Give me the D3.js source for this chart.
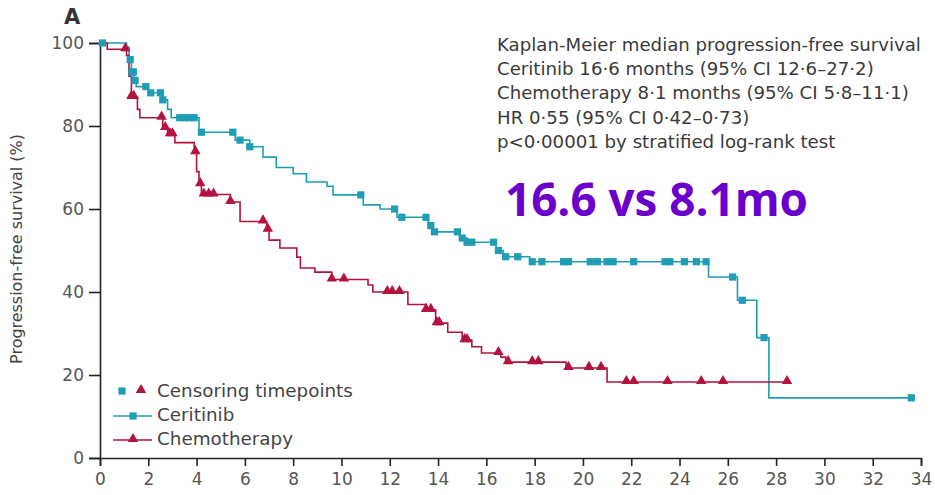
<!DOCTYPE html>
<html>
<head>
<meta charset="utf-8">
<script src="https://cdn.jsdelivr.net/npm/d3@7"></script>
<style>
  body { margin: 0; background: #fff; }
  text { font-family: "DejaVu Sans", "Open Sans", sans-serif; }
</style>
</head>
<body>
<svg id="km-chart"></svg>
<script>
// Kaplan-Meier steps: [month, survival %] after each drop
const ceritinibSteps = [
  [0, 100], [1.1, 99], [1.2, 96], [1.3, 93], [1.4, 91], [1.5, 89.5],
  [2.0, 88], [2.55, 86.3], [2.8, 84], [2.95, 82], [4.1, 78.5], [5.6, 76.6],
  [6.2, 75], [6.75, 72.5], [7.3, 70], [8.0, 68.5], [8.55, 66.5], [9.4, 65.5],
  [9.65, 63.4], [10.9, 61], [11.6, 60], [12.3, 58], [13.6, 56], [13.8, 54.5],
  [14.9, 53], [15.2, 52], [16.4, 50], [16.7, 48.5], [17.8, 47.3], [25.2, 43.6],
  [26.4, 38], [27.2, 29], [27.7, 14.5]
];
const ceritinibEnd = 33.6;
const ceritinibCensored = [
  0.1, 1.25, 1.32, 1.38, 1.45, 1.9, 2.1, 2.5, 2.6, 3.3, 3.5, 3.7, 3.9, 4.2,
  5.5, 5.8, 6.2, 10.8, 12.2, 12.5, 13.5, 13.7, 13.85, 14.8, 15.0, 15.2, 15.4,
  16.3, 16.5, 16.8, 17.3, 17.9, 18.3, 19.2, 19.4, 20.3, 20.6, 21.0, 21.25,
  22.1, 23.4, 23.6, 24.2, 24.7, 25.1, 26.2, 26.6, 27.5, 33.6
];

const chemoSteps = [
  [0, 100], [0.3, 98.5], [1.1, 97], [1.2, 92], [1.3, 87], [1.55, 84],
  [1.65, 82], [2.6, 79.5], [2.8, 78], [3.1, 76], [3.9, 73.7], [4.0, 69],
  [4.1, 66], [4.2, 63.5], [5.4, 61.7], [5.8, 57], [6.9, 55], [7.0, 52.5],
  [7.45, 50.6], [8.15, 48.4], [8.3, 45.8], [8.9, 44.8], [9.6, 43], [11.1, 41.7],
  [11.3, 40], [12.75, 37], [13.5, 35.7], [13.9, 32.5], [14.4, 30.3], [15.0, 28.4],
  [15.4, 26.8], [15.8, 25.3], [16.6, 24.3], [16.8, 23.1], [19.3, 21.7], [21.0, 18.3]
];
const chemoEnd = 28.45;
const chemoCensored = [
  1.05, 1.3, 1.4, 2.55, 2.7, 2.9, 3.0, 3.95, 4.15, 4.3, 4.5, 4.7, 5.4, 6.75,
  6.95, 9.6, 10.1, 11.9, 12.1, 12.4, 13.5, 13.7, 13.95, 14.05, 15.1, 15.2,
  16.5, 16.9, 17.9, 18.15, 19.4, 20.25, 20.75, 21.8, 22.1, 23.5, 24.9, 25.8, 28.45
];

const xTicks = d3.range(0, 35, 2);
const yTicks = [0, 20, 40, 60, 80, 100];

const statLines = [
  "Kaplan-Meier median progression-free survival",
  "Ceritinib 16\u00b76 months (95% CI 12\u00b76\u201327\u00b72)",
  "Chemotherapy 8\u00b71 months (95% CI 5\u00b78\u201311\u00b71)",
  "HR 0\u00b755 (95% CI 0\u00b742\u20130\u00b773)",
  "p<0\u00b700001 by stratified log-rank test"
];
const legendItems = ["Censoring timepoints", "Ceritinib", "Chemotherapy"];

const teal = "#1f9db5";
const crimson = "#b3133f";

// SVG size and margins
const W = 935, H = 495;
const margin = { top: 43, right: 14, bottom: 37, left: 100 };
const width = W - margin.left - margin.right;
const height = H - margin.top - margin.bottom;

const svg = d3.select("#km-chart")
  .attr("width", W)
  .attr("height", H);

const g = svg.append("g")
  .attr("transform", "translate(" + margin.left + "," + margin.top + ")");

const x = d3.scaleLinear().domain([0, 34]).range([0, width]);
const y = d3.scaleLinear().domain([0, 100]).range([height, 0]);

// scale font size of a text selection so its widest line hits a target width
function fitWidth(sel, target) {
  let widest = 0;
  sel.each(function() { widest = Math.max(widest, this.getComputedTextLength()); });
  const fs = parseFloat(sel.style("font-size"));
  sel.style("font-size", (fs * target / widest).toFixed(2) + "px");
}

// Axes
const xAxis = g.append("g")
  .attr("transform", "translate(0," + height + ")")
  .call(d3.axisBottom(x).tickValues(xTicks).tickSize(8).tickPadding(4));
const yAxis = g.append("g")
  .call(d3.axisLeft(y).tickValues(yTicks).tickSize(11).tickPadding(5));

[xAxis, yAxis].forEach(function(a) {
  a.select(".domain").attr("stroke", "#222").attr("stroke-width", 1.6);
  a.selectAll(".tick line").attr("stroke", "#222").attr("stroke-width", 1.6);
  a.selectAll(".tick text")
    .attr("fill", "#555")
    .style("font-size", "17px")
    .style("font-family", "'DejaVu Sans', sans-serif");
});
xAxis.selectAll(".tick text").attr("dy", "0.9em");

// y label
const yLabel = svg.append("text")
  .attr("transform", "translate(22,249) rotate(-90)")
  .attr("text-anchor", "middle")
  .attr("fill", "#444")
  .style("font-size", "14px")
  .text("Progression-free survival (%)");
fitWidth(yLabel, 230);

// panel letter
svg.append("text")
  .attr("x", 64).attr("y", 24)
  .style("font-size", "21px")
  .style("font-weight", "bold")
  .attr("fill", "#333")
  .text("A");

// step lookup
function survivalAt(steps, t) {
  let s = steps[0][1];
  steps.forEach(function(d) { if (d[0] <= t) s = d[1]; });
  return s;
}

const line = d3.line()
  .x(d => x(d[0]))
  .y(d => y(d[1]))
  .curve(d3.curveStepAfter);

function drawCurve(steps, end, color) {
  const pts = steps.concat([[end, steps[steps.length - 1][1]]]);
  g.append("path")
    .datum(pts)
    .attr("fill", "none")
    .attr("stroke", color)
    .attr("stroke-width", 1.6)
    .attr("d", line);
}

drawCurve(ceritinibSteps, ceritinibEnd, teal);
drawCurve(chemoSteps, chemoEnd, crimson);

const squareSym = d3.symbol().type(d3.symbolSquare).size(52);
const triSym = d3.symbol().type(d3.symbolTriangle).size(48);

g.selectAll(".cens-c")
  .data(ceritinibCensored)
  .enter().append("path")
  .attr("class", "cens-c")
  .attr("d", squareSym)
  .attr("fill", teal)
  .attr("transform", d => "translate(" + x(d) + "," + y(survivalAt(ceritinibSteps, d)) + ")");

g.selectAll(".cens-t")
  .data(chemoCensored)
  .enter().append("path")
  .attr("class", "cens-t")
  .attr("d", triSym)
  .attr("fill", crimson)
  .attr("transform", d => "translate(" + x(d) + "," + (y(survivalAt(chemoSteps, d)) - 1) + ")");

// statistics text block
const stats = svg.append("g")
  .selectAll("text")
  .data(statLines)
  .enter().append("text")
  .attr("x", 497)
  .attr("y", (d, i) => 51 + i * 24.2)
  .attr("fill", "#3a3a3a")
  .style("font-size", "16px")
  .text(d => d);
fitWidth(stats, 424);

// highlight
const big = svg.append("text")
  .attr("x", 505)
  .attr("y", 216)
  .attr("fill", "#6a00cc")
  .style("font-family", "'Open Sans', sans-serif")
  .style("font-size", "45px")
  .style("font-weight", "bold")
  .text("16.6 vs 8.1mo");
fitWidth(big, 303);

// legend
const legend = svg.append("g");
legend.append("path")
  .attr("d", squareSym)
  .attr("fill", teal)
  .attr("transform", "translate(122,391)");
legend.append("path")
  .attr("d", triSym)
  .attr("fill", crimson)
  .attr("transform", "translate(141,390)");
[teal, crimson].forEach(function(c, i) {
  const ly = 416 + i * 24;
  legend.append("line")
    .attr("x1", 113).attr("x2", 152)
    .attr("y1", ly).attr("y2", ly)
    .attr("stroke", c).attr("stroke-width", 1.6);
  legend.append("path")
    .attr("d", i === 0 ? squareSym : triSym)
    .attr("fill", c)
    .attr("transform", "translate(133," + (ly - (i === 1 ? 1 : 0)) + ")");
});
const legendText = legend.selectAll("text")
  .data(legendItems)
  .enter().append("text")
  .attr("x", 157)
  .attr("y", (d, i) => 397 + i * 24)
  .attr("fill", "#444")
  .style("font-size", "16px")
  .text(d => d);
fitWidth(legendText, 196);
</script>
</body>
</html>
